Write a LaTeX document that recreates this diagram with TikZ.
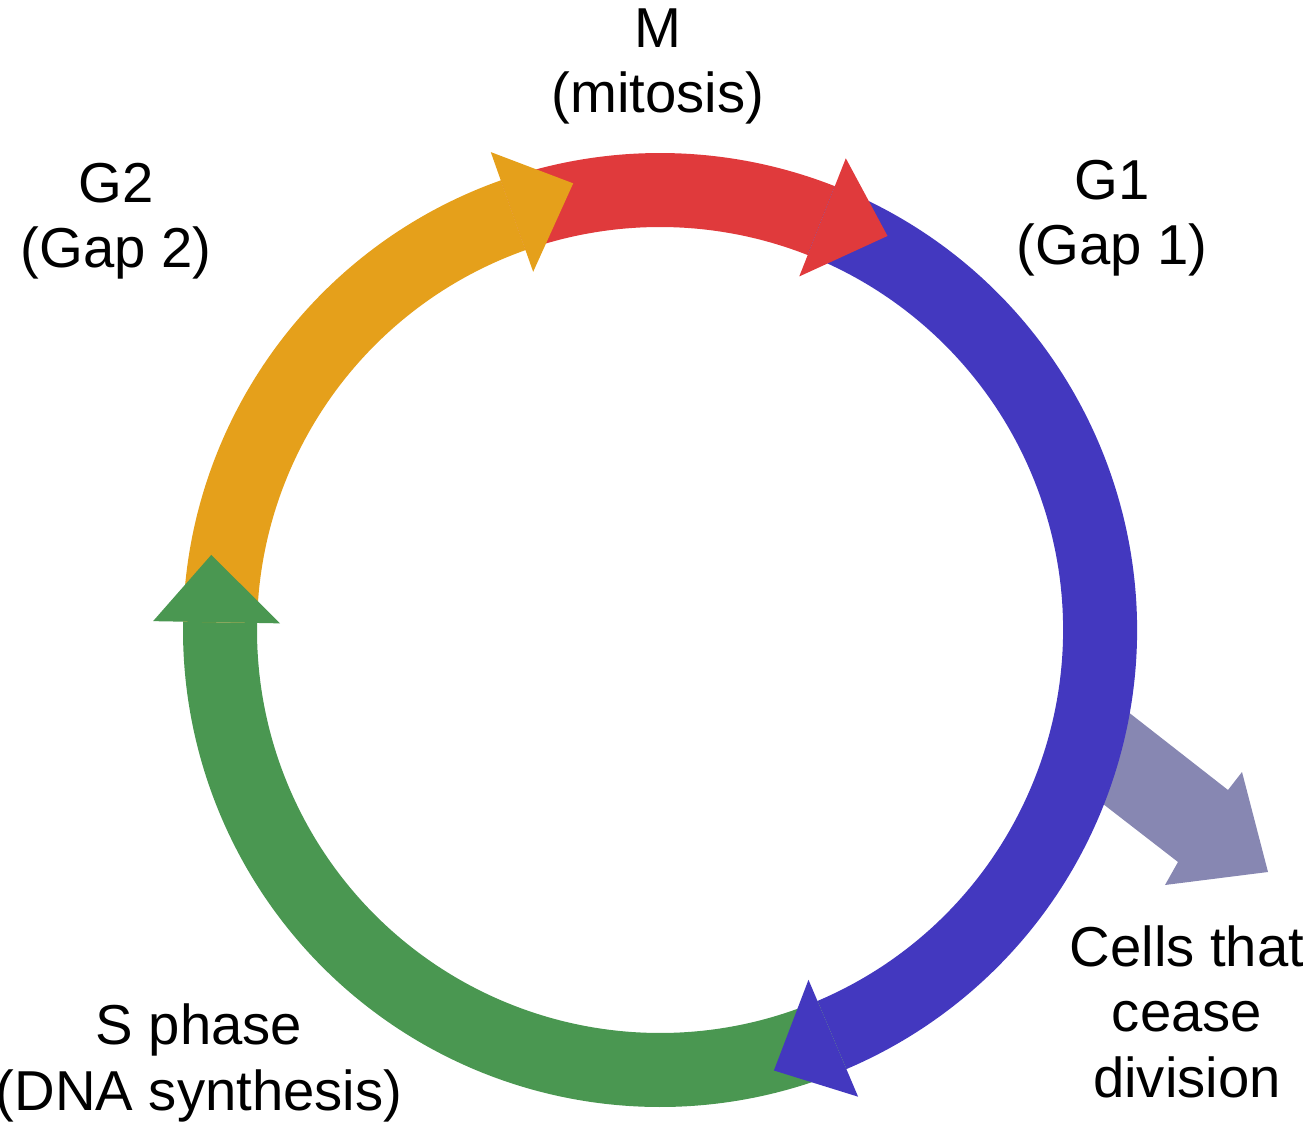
\documentclass[tikz,border=0pt]{standalone}
\usepackage{fontspec}
\setmainfont{Liberation Sans}
\usepackage{xcolor}
\usetikzlibrary{positioning}
\definecolor{phasered}{HTML}{E03A3C}
\definecolor{phaseblue}{HTML}{4338BF}
\definecolor{phasegreen}{HTML}{4A9751}
\definecolor{phaseorange}{HTML}{E5A01B}
\definecolor{phasegrey}{HTML}{8787B2}

\begin{document}
\begin{tikzpicture}[x=0.01cm, y=0.01cm,
  phasetext/.style={align=center, anchor=base, inner sep=0pt,
    font=\fontsize{16pt}{18.5pt}\selectfont}]
  \useasboundingbox (0,0) rectangle (1303,-1125);

  % exit arrow, drawn under the ring
  \fill[phasegrey] (1100,-690) -- (1228,-790) -- (1242,-772) -- (1268,-872)
    -- (1165,-885) -- (1178,-862) -- (1085,-790) -- cycle;

  \begin{scope}[shift={(660,-630)}]
    % ring bands: colour/from/to
    \foreach \col/\a/\b in {phasered/109.5/68.5, phaseblue/68.5/-67,
        phasegreen/-67/-181, phaseorange/179/109.5}
      \fill[\col] (\a:477) arc[start angle=\a, end angle=\b, radius=477]
        -- (\b:403) arc[start angle=\b, end angle=\a, radius=403] -- cycle;
    % heads on top
    \foreach \col/\b in {phasered/68.5, phaseblue/-67, phasegreen/-181, phaseorange/109.5}
      \fill[\col] (\b:507) -- ({\b-8.5}:455) -- (\b:380) -- cycle;
  \end{scope}

  % base anchor sits on the last line
  \node[phasetext] (mitosis) at (658,-113) {M\\(mitosis)};
  \node[phasetext] (gaptwo) at (116,-268) {G2\\(Gap 2)};
  \node[phasetext] (gapone) at (1112,-265) {G1\\(Gap 1)};
  \node[phasetext] (sphase) at (199,-1110) {S phase\\(DNA synthesis)};
  \node[phasetext] (cease) at (1187,-1097) {Cells that\\cease\\division};
\end{tikzpicture}
\end{document}
